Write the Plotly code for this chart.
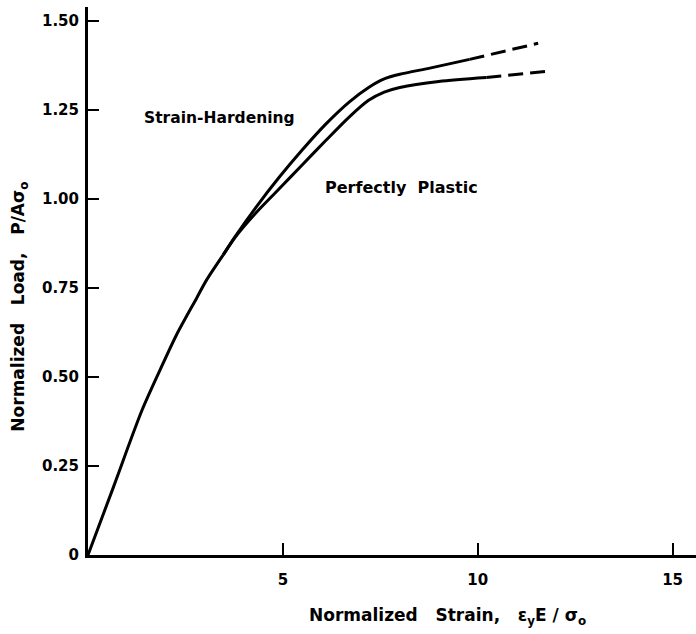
import plotly.graph_objects as go

# Shared elastic portion (both curves coincide)
common_x = [0.0, 0.65, 1.38, 1.85, 2.27, 2.79, 3.04, 3.47]
common_y = [0.0, 0.19, 0.405, 0.52, 0.618, 0.722, 0.772, 0.843]

# Strain-hardening curve (upper)
hard_x = [3.47, 3.78, 4.3, 4.9, 5.5, 6.1, 6.7, 7.2, 7.6, 8.0, 8.8, 9.79]
hard_y = [0.843, 0.895, 0.975, 1.060, 1.138, 1.210, 1.272, 1.313, 1.337, 1.350, 1.368, 1.392]
hard_ext_x = [9.79, 11.55]
hard_ext_y = [1.392, 1.437]

# Perfectly plastic curve (lower)
plast_x = [3.47, 3.78, 4.3, 4.9, 5.5, 6.1, 6.7, 7.2, 7.6, 8.0, 9.0, 10.22]
plast_y = [0.843, 0.893, 0.960, 1.028, 1.096, 1.164, 1.230, 1.277, 1.300, 1.313, 1.330, 1.341]
plast_ext_x = [10.22, 11.89]
plast_ext_y = [1.341, 1.36]

y_tick_vals = [0, 0.25, 0.5, 0.75, 1.0, 1.25, 1.5]
y_tick_text = ["0", "0.25", "0.50", "0.75", "1.00", "1.25", "1.50"]
x_tick_vals = [5, 10, 15]
x_tick_text = ["5", "10", "15"]

FONT = "DejaVu Sans"
solid = dict(color="black", width=3, shape="spline", smoothing=0.8)
dashed = dict(color="black", width=3, dash="15px,7px")

fig = go.Figure()
fig.add_trace(go.Scatter(x=common_x, y=common_y, mode="lines", line=solid))
fig.add_trace(go.Scatter(x=hard_x, y=hard_y, mode="lines", line=solid))
fig.add_trace(go.Scatter(x=plast_x, y=plast_y, mode="lines", line=solid))
fig.add_trace(go.Scatter(x=hard_ext_x, y=hard_ext_y, mode="lines", line=dashed))
fig.add_trace(go.Scatter(x=plast_ext_x, y=plast_ext_y, mode="lines", line=dashed))

fig.add_annotation(x=3.38, y=1.228, text="Strain-Hardening", showarrow=False,
                   font=dict(family=FONT, size=15.5, color="black", weight="bold"))
fig.add_annotation(x=8.05, y=1.031, text="Perfectly&nbsp;&nbsp;Plastic", showarrow=False,
                   font=dict(family=FONT, size=16, color="black", weight="bold"))

fig.add_annotation(xref="paper", yref="paper", x=0.592, y=-0.113,
                   text="Normalized&nbsp;&nbsp;&nbsp;Strain,&nbsp;&nbsp;&nbsp;ε<sub>y</sub>E / σ<sub>o</sub>",
                   showarrow=False, yanchor="middle", xanchor="center",
                   font=dict(family=FONT, size=17, color="black", weight="bold"))
fig.add_annotation(xref="paper", yref="paper", x=-0.112, y=0.453,
                   text="Normalized&nbsp;&nbsp;&nbsp;Load,&nbsp;&nbsp;&nbsp;P/Aσ<sub>o</sub>",
                   showarrow=False, textangle=-90, xanchor="center", yanchor="middle",
                   font=dict(family=FONT, size=17, color="black", weight="bold"))

fig.update_layout(
    width=696, height=634,
    margin=dict(l=88, r=0, t=7, b=79),
    paper_bgcolor="white", plot_bgcolor="white",
    showlegend=False,
)
fig.update_xaxes(range=[0, 15.6], showline=True, linecolor="black", linewidth=3,
                 showgrid=False, zeroline=False, ticks="inside", ticklen=12, tickwidth=2,
                 tickcolor="black", tickvals=x_tick_vals, ticktext=x_tick_text,
                 ticklabelstandoff=9,
                 tickfont=dict(family=FONT, size=15, color="black", weight="bold"))
fig.update_yaxes(range=[0, 1.539], showline=True, linecolor="black", linewidth=3,
                 showgrid=False, zeroline=False, ticks="inside", ticklen=11, tickwidth=2,
                 tickcolor="black", tickvals=y_tick_vals, ticktext=y_tick_text,
                 ticklabelstandoff=3,
                 tickfont=dict(family=FONT, size=15, color="black", weight="bold"))

fig.write_html("out.html", config={"displayModeBar": False},
               post_script="document.body.style.margin='0';")
